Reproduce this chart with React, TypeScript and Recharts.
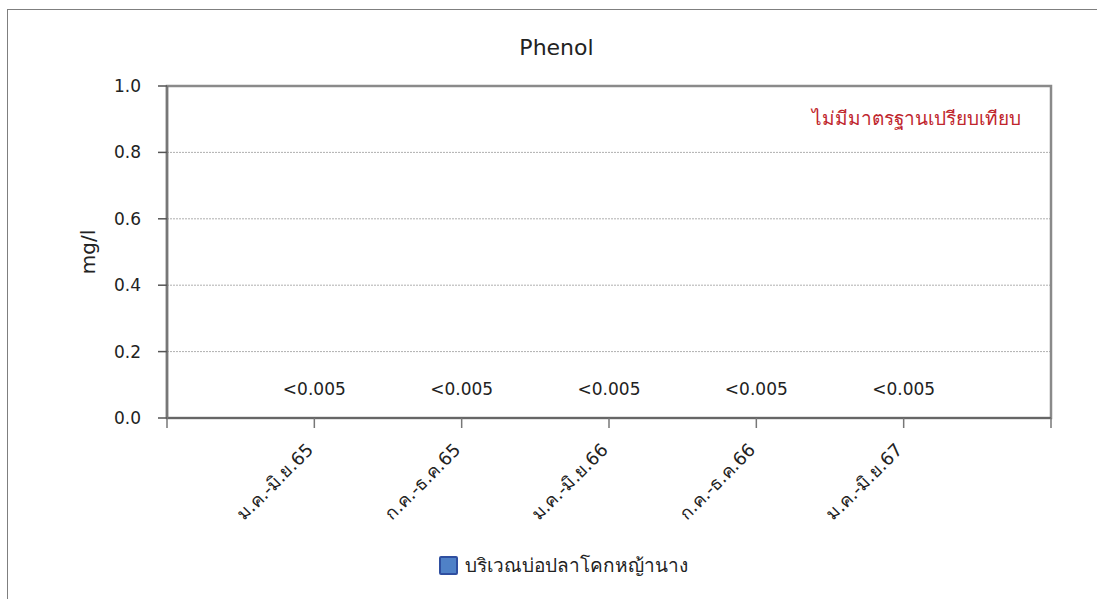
import { Bar, CartesianGrid, ComposedChart, Legend, Line, ReferenceArea, XAxis, YAxis } from "recharts";

// ช่วงเวลาตรวจวัด
const periods = ["ม.ค.-มิ.ย.65", "ก.ค.-ธ.ค.65", "ม.ค.-มิ.ย.66", "ก.ค.-ธ.ค.66", "ม.ค.-มิ.ย.67"];
// ค่าที่ตรวจพบต่ำกว่าค่าที่ตรวจวัดได้ จึงพล็อตเป็น 0
const phenolValues = [0, 0, 0, 0, 0];
const phenolText = ["<0.005", "<0.005", "<0.005", "<0.005", "<0.005"];
const yTicks = [0, 0.2, 0.4, 0.6, 0.8, 1.0];
const gridValues = [0.2, 0.4, 0.6, 0.8];
const seriesName = "บริเวณบ่อปลาโคกหญ้านาง";
const chartTitle = "Phenol";
const unitLabel = "mg/l";
const noteText = "ไม่มีมาตรฐานเปรียบเทียบ";

const FONT = "'DejaVu Sans', 'Noto Sans', sans-serif";
const W = 1097;
const H = 599;

const data = periods.map((p, i) => ({
  pos: i + 1,
  period: p,
  value: phenolValues[i],
  text: phenolText[i],
}));
const xTicks = Array.from({ length: periods.length + 2 }, (_, i) => i);

function CategoryTick(props: any) {
  const { x, y, payload } = props;
  const label = periods[payload.value - 1];
  if (!label) return null;
  return (
    <g transform={`translate(${x},${y + 21})`}>
      <text textAnchor="end" transform="rotate(-45)" fontSize={18} fontFamily={FONT} fill="#222">
        {label}
      </text>
    </g>
  );
}

function ValueLabel(props: any) {
  const { x, y, index } = props;
  return (
    <text x={x} y={y - 23} textAnchor="middle" fontSize={17} fontFamily={FONT} fill="#222">
      {data[index].text}
    </text>
  );
}

function LegendBox() {
  return (
    <div
      style={{
        display: "flex",
        alignItems: "center",
        justifyContent: "center",
        fontFamily: FONT,
        paddingLeft: 30,
      }}
    >
      <span
        style={{
          width: 15,
          height: 15,
          background: "#4f81c7",
          border: "2px solid #2f4fa0",
          borderRadius: 2,
          marginRight: 7,
          display: "inline-block",
        }}
      />
      <span style={{ fontSize: 19, color: "#222" }}>{seriesName}</span>
    </div>
  );
}

export default function App() {
  return (
    <div style={{ position: "absolute", left: 0, top: 0, width: W, height: H, background: "#fff", overflow: "hidden" }}>
      <div
        style={{
          position: "absolute",
          left: 7,
          top: 9,
          width: W,
          height: H,
          border: "1px solid #7f7f7f",
        }}
      />
      <div
        style={{
          position: "absolute",
          left: 8,
          width: W,
          top: 35,
          textAlign: "center",
          fontFamily: FONT,
          fontSize: 22,
          color: "#222",
        }}
      >
        {chartTitle}
      </div>
      <div
        style={{
          position: "absolute",
          right: 76,
          top: 103,
          fontFamily: FONT,
          fontSize: 19,
          color: "#c0262d",
        }}
      >
        {noteText}
      </div>
      <div style={{ position: "absolute", left: 0, top: 0 }}>
        <ComposedChart width={W} height={H} data={data} margin={{ top: 86, right: 46, bottom: 0, left: 0 }}>
          <CartesianGrid
            vertical={false}
            horizontalValues={gridValues}
            stroke="#9a9a9a"
            strokeDasharray="2 1"
            strokeWidth={0.8}
          />
          <ReferenceArea
            x1={0}
            x2={periods.length + 1}
            y1={0}
            y2={1}
            fill="none"
            stroke="#8a8a8a"
            strokeWidth={2.5}
            ifOverflow="visible"
          />
          <XAxis
            dataKey="pos"
            type="number"
            domain={[0, periods.length + 1]}
            ticks={xTicks}
            interval={0}
            height={181}
            tickSize={10}
            tickLine={{ stroke: "#777", strokeWidth: 1.5 }}
            axisLine={{ stroke: "#666", strokeWidth: 2 }}
            tick={<CategoryTick />}
          />
          <YAxis
            domain={[0, 1]}
            ticks={yTicks}
            width={167}
            tickSize={9}
            tickMargin={17}
            tickFormatter={(v: number) => v.toFixed(1)}
            tick={{ fontSize: 17, fontFamily: FONT, fill: "#222" }}
            tickLine={{ stroke: "#555", strokeWidth: 1.5 }}
            axisLine={{ stroke: "#777", strokeWidth: 2.5 }}
            label={{
              content: ({ viewBox }: any) => (
                <text
                  transform={`translate(${viewBox.x + 88},${viewBox.y + viewBox.height / 2}) rotate(-90)`}
                  textAnchor="middle"
                  dominantBaseline="central"
                  fontSize={20}
                  fontFamily={FONT}
                  fill="#222"
                >
                  {unitLabel}
                </text>
              ),
            }}
          />
          <Legend
            layout="vertical"
            align="center"
            verticalAlign="middle"
            content={() => <LegendBox />}
            wrapperStyle={{ top: 550, left: 0, width: W }}
          />
          <Bar dataKey="value" name={seriesName} fill="#4f81c7" barSize={40} isAnimationActive={false} />
          <Line
            dataKey="value"
            stroke="none"
            dot={false}
            activeDot={false}
            legendType="none"
            isAnimationActive={false}
            label={<ValueLabel />}
          />
        </ComposedChart>
      </div>
    </div>
  );
}
